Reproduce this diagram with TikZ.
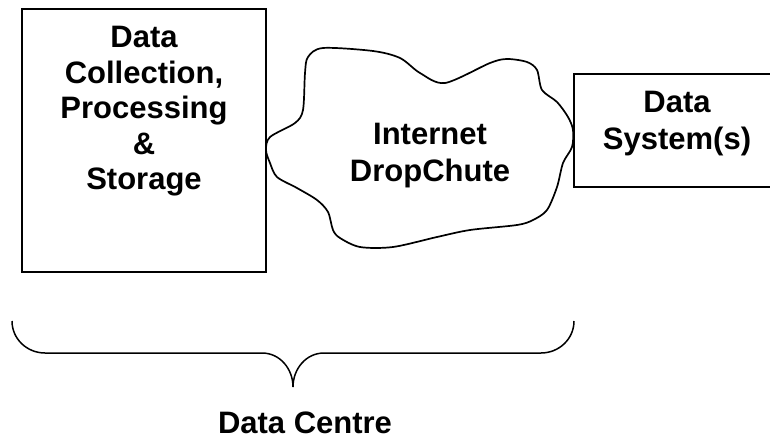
\documentclass[tikz,border=0pt]{standalone}
\usepackage{fontspec}
\setmainfont{Liberation Sans}
\begin{document}
\begin{tikzpicture}[x=1pt,y=-1pt,
  outline/.style={draw=black,line width=1.7pt},
  boxshape/.style={outline,rectangle,inner sep=0pt},
  label/.style={font=\fontsize{31}{36}\selectfont\bfseries,align=center,inner sep=0pt}]
\clip (0,0) rectangle (770,436);

% left box: collection, processing and storage
\node[boxshape,minimum width=244pt,minimum height=262.5pt] (dcps) at (144,140.5) {};
\node[label,font=\fontsize{31}{35.5}\selectfont\bfseries,anchor=north] (dcpstext) at (144,26)
  {Data\\Collection,\\Processing\\\&\\Storage};

% right box, running past the right edge of the page
\node[boxshape,minimum width=210pt,minimum height=112.5pt] (sys) at (679,130.5) {};
\node[label,font=\fontsize{31}{37}\selectfont\bfseries,anchor=north] (systext) at (677,91)
  {Data\\System(s)};

% internet cloud between the two boxes
\draw[outline,line join=round] plot[smooth cycle,tension=0.5] coordinates {
  (266,150) (270,137) (295,123) (303,110) (305,73) (308,57) (323,48) (373,51)
  (400,58) (420,73) (445,83) (490,63) (507,59) (527,62) (537,70) (542,90)
  (557,102) (568,117) (573,130) (572,147) (563,163) (557,187) (547,210)
  (533,220) (517,225) (470,230) (437,237) (393,247) (360,247) (340,238)
  (333,230) (328,212) (317,200) (297,188) (277,177) (270,163)};
\node[label,font=\fontsize{31}{36.7}\selectfont\bfseries,anchor=north] (net) at (430,123)
  {Internet\\DropChute};

% brace under the left box and the cloud
\coordinate (braceL) at (12,321);
\coordinate (braceR) at (574,321);
\coordinate (braceTip) at (293,387);
\draw[outline,line width=1.5pt]
  (braceL) to[out=-90,in=180] (45,353) -- (262,353) to[out=0,in=90] (braceTip)
  to[out=90,in=180] (324,353) -- (541,353) to[out=0,in=-90] (braceR);
\node[label,anchor=base] (centre) at (305,433) {Data Centre};
\end{tikzpicture}
\end{document}
